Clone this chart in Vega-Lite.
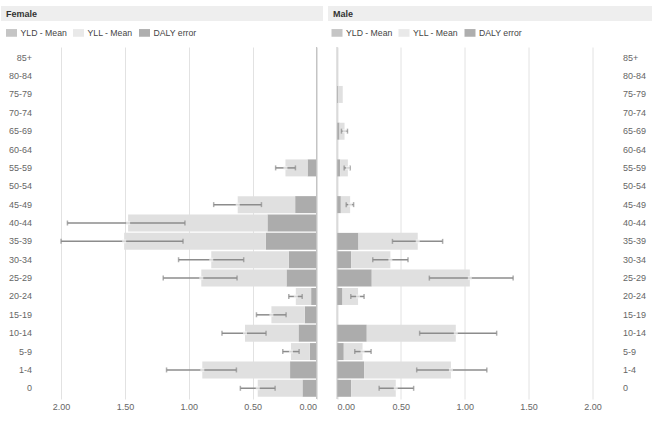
{
  "$schema": "https://vega.github.io/schema/vega-lite/v6.json",
  "padding": {"left": 1, "top": 6, "right": 0, "bottom": 0},
  "background": "white",
  "config": {
    "font": "Liberation Sans",
    "view": {"stroke": null},
    "axis": {"labelFont": "Liberation Sans", "labelFontSize": 9, "labelColor": "#666666", "ticks": false, "domain": false, "title": null},
    "legend": {"labelFont": "Liberation Sans", "labelFontSize": 8.7, "labelColor": "#444444"}
  },
  "datasets": {
    "bars": [
      {"sex": "Female", "age": "55-59", "measure": "YLD - Mean", "value": 0.07},
      {"sex": "Female", "age": "55-59", "measure": "YLL - Mean", "value": 0.173},
      {"sex": "Female", "age": "45-49", "measure": "YLD - Mean", "value": 0.167},
      {"sex": "Female", "age": "45-49", "measure": "YLL - Mean", "value": 0.45},
      {"sex": "Female", "age": "40-44", "measure": "YLD - Mean", "value": 0.384},
      {"sex": "Female", "age": "40-44", "measure": "YLL - Mean", "value": 1.091},
      {"sex": "Female", "age": "35-39", "measure": "YLD - Mean", "value": 0.397},
      {"sex": "Female", "age": "35-39", "measure": "YLL - Mean", "value": 1.109},
      {"sex": "Female", "age": "30-34", "measure": "YLD - Mean", "value": 0.217},
      {"sex": "Female", "age": "30-34", "measure": "YLL - Mean", "value": 0.607},
      {"sex": "Female", "age": "25-29", "measure": "YLD - Mean", "value": 0.235},
      {"sex": "Female", "age": "25-29", "measure": "YLL - Mean", "value": 0.667},
      {"sex": "Female", "age": "20-24", "measure": "YLD - Mean", "value": 0.042},
      {"sex": "Female", "age": "20-24", "measure": "YLL - Mean", "value": 0.12},
      {"sex": "Female", "age": "15-19", "measure": "YLD - Mean", "value": 0.092},
      {"sex": "Female", "age": "15-19", "measure": "YLL - Mean", "value": 0.261},
      {"sex": "Female", "age": "10-14", "measure": "YLD - Mean", "value": 0.141},
      {"sex": "Female", "age": "10-14", "measure": "YLL - Mean", "value": 0.419},
      {"sex": "Female", "age": "5-9", "measure": "YLD - Mean", "value": 0.052},
      {"sex": "Female", "age": "5-9", "measure": "YLL - Mean", "value": 0.148},
      {"sex": "Female", "age": "1-4", "measure": "YLD - Mean", "value": 0.207},
      {"sex": "Female", "age": "1-4", "measure": "YLL - Mean", "value": 0.687},
      {"sex": "Female", "age": "0", "measure": "YLD - Mean", "value": 0.11},
      {"sex": "Female", "age": "0", "measure": "YLL - Mean", "value": 0.35},
      {"sex": "Male", "age": "75-79", "measure": "YLD - Mean", "value": 0.008},
      {"sex": "Male", "age": "75-79", "measure": "YLL - Mean", "value": 0.037},
      {"sex": "Male", "age": "65-69", "measure": "YLD - Mean", "value": 0.02},
      {"sex": "Male", "age": "65-69", "measure": "YLL - Mean", "value": 0.039},
      {"sex": "Male", "age": "55-59", "measure": "YLD - Mean", "value": 0.025},
      {"sex": "Male", "age": "55-59", "measure": "YLL - Mean", "value": 0.06},
      {"sex": "Male", "age": "45-49", "measure": "YLD - Mean", "value": 0.03},
      {"sex": "Male", "age": "45-49", "measure": "YLL - Mean", "value": 0.073},
      {"sex": "Male", "age": "35-39", "measure": "YLD - Mean", "value": 0.168},
      {"sex": "Male", "age": "35-39", "measure": "YLL - Mean", "value": 0.464},
      {"sex": "Male", "age": "30-34", "measure": "YLD - Mean", "value": 0.111},
      {"sex": "Male", "age": "30-34", "measure": "YLL - Mean", "value": 0.307},
      {"sex": "Male", "age": "25-29", "measure": "YLD - Mean", "value": 0.272},
      {"sex": "Male", "age": "25-29", "measure": "YLL - Mean", "value": 0.768},
      {"sex": "Male", "age": "20-24", "measure": "YLD - Mean", "value": 0.043},
      {"sex": "Male", "age": "20-24", "measure": "YLL - Mean", "value": 0.122},
      {"sex": "Male", "age": "10-14", "measure": "YLD - Mean", "value": 0.233},
      {"sex": "Male", "age": "10-14", "measure": "YLL - Mean", "value": 0.697},
      {"sex": "Male", "age": "5-9", "measure": "YLD - Mean", "value": 0.053},
      {"sex": "Male", "age": "5-9", "measure": "YLL - Mean", "value": 0.147},
      {"sex": "Male", "age": "1-4", "measure": "YLD - Mean", "value": 0.212},
      {"sex": "Male", "age": "1-4", "measure": "YLL - Mean", "value": 0.68},
      {"sex": "Male", "age": "0", "measure": "YLD - Mean", "value": 0.111},
      {"sex": "Male", "age": "0", "measure": "YLL - Mean", "value": 0.349}
    ],
    "errors": [
      {"sex": "Female", "age": "55-59", "daly": 0.243, "lo": 0.165, "hi": 0.32},
      {"sex": "Female", "age": "45-49", "daly": 0.617, "lo": 0.431, "hi": 0.805},
      {"sex": "Female", "age": "40-44", "daly": 1.475, "lo": 1.03, "hi": 1.95},
      {"sex": "Female", "age": "35-39", "daly": 1.506, "lo": 1.045, "hi": 2.0},
      {"sex": "Female", "age": "30-34", "daly": 0.824, "lo": 0.57, "hi": 1.08},
      {"sex": "Female", "age": "25-29", "daly": 0.902, "lo": 0.622, "hi": 1.2},
      {"sex": "Female", "age": "20-24", "daly": 0.162, "lo": 0.112, "hi": 0.217},
      {"sex": "Female", "age": "15-19", "daly": 0.353, "lo": 0.238, "hi": 0.47},
      {"sex": "Female", "age": "10-14", "daly": 0.56, "lo": 0.395, "hi": 0.74},
      {"sex": "Female", "age": "5-9", "daly": 0.2, "lo": 0.136, "hi": 0.264},
      {"sex": "Female", "age": "1-4", "daly": 0.894, "lo": 0.627, "hi": 1.174},
      {"sex": "Female", "age": "0", "daly": 0.46, "lo": 0.324, "hi": 0.596},
      {"sex": "Male", "age": "65-69", "daly": 0.059, "lo": 0.035, "hi": 0.082},
      {"sex": "Male", "age": "55-59", "daly": 0.085, "lo": 0.056, "hi": 0.103},
      {"sex": "Male", "age": "45-49", "daly": 0.103, "lo": 0.072, "hi": 0.13},
      {"sex": "Male", "age": "35-39", "daly": 0.632, "lo": 0.434, "hi": 0.827},
      {"sex": "Male", "age": "30-34", "daly": 0.418, "lo": 0.28, "hi": 0.556},
      {"sex": "Male", "age": "25-29", "daly": 1.04, "lo": 0.723, "hi": 1.379},
      {"sex": "Male", "age": "20-24", "daly": 0.165, "lo": 0.108, "hi": 0.212},
      {"sex": "Male", "age": "10-14", "daly": 0.93, "lo": 0.647, "hi": 1.25},
      {"sex": "Male", "age": "5-9", "daly": 0.2, "lo": 0.139, "hi": 0.267},
      {"sex": "Male", "age": "1-4", "daly": 0.892, "lo": 0.624, "hi": 1.173},
      {"sex": "Male", "age": "0", "daly": 0.46, "lo": 0.33, "hi": 0.6}
    ]
  },
  "vconcat": [
    {
      "hconcat": [
        {
          "width": 322, "height": 15,
          "view": {"fill": "#eeeeee", "stroke": null},
          "data": {"values": [{"panel": "Female"}]},
          "mark": {"type": "text", "align": "left", "baseline": "middle", "fontWeight": "bold", "fontSize": 9, "dx": 5, "color": "#333333"},
          "encoding": {
            "text": {"field": "panel"},
            "x": {"datum": 0, "type": "quantitative", "scale": {"domain": [0, 1]}, "axis": null}
          }
        },
        {
          "width": 324, "height": 15,
          "view": {"fill": "#eeeeee", "stroke": null},
          "data": {"values": [{"panel": "Male"}]},
          "mark": {"type": "text", "align": "left", "baseline": "middle", "fontWeight": "bold", "fontSize": 9, "dx": 5, "color": "#333333"},
          "encoding": {
            "text": {"field": "panel"},
            "x": {"datum": 0, "type": "quantitative", "scale": {"domain": [0, 1]}, "axis": null}
          }
        }
      ],
      "spacing": 5,
      "resolve": {"scale": {"x": "independent"}}
    },
    {
      "hconcat": [
        {
          "width": 315.5, "height": 352,
          "layer": [
            {
              "data": {"name": "bars"},
              "transform": [{"filter": "datum.sex === 'Female'"}],
              "mark": {"type": "bar"},
              "encoding": {
                "y": {"field": "age", "type": "nominal", "scale": {"domain": ["85+", "80-84", "75-79", "70-74", "65-69", "60-64", "55-59", "50-54", "45-49", "40-44", "35-39", "30-34", "25-29", "20-24", "15-19", "10-14", "5-9", "1-4", "0"], "paddingInner": 0.075, "paddingOuter": 0.12}, "axis": {"orient": "left", "labelPadding": 4, "offset": -34.5, "grid": false}},
                "x": {"field": "value", "type": "quantitative", "stack": "zero", "scale": {"domain": [0, 2.2], "range": [315.5, 34.5], "nice": false, "zero": false}, "axis": {"values": [0, 0.5, 1, 1.5, 2], "format": ".2f", "grid": true, "gridColor": "#e2e2e2", "labelPadding": 3}},
                "color": {"field": "measure", "type": "nominal", "scale": {"domain": ["YLD - Mean", "YLL - Mean", "DALY error"], "range": ["#acacac", "#e0e0e0", "#8c8c8c"]}, "legend": {"orient": "none", "legendX": 0, "legendY": -25, "direction": "horizontal", "padding": 5, "symbolType": "M-1,-0.7H1V0.7H-1Z", "symbolSize": 121, "symbolStrokeWidth": 0, "symbolOpacity": 1, "labelOffset": 3.5, "columnPadding": 6, "title": null}}
              }
            },
            {
              "data": {"values": [{"baseline": 0}]},
              "mark": {"type": "rule", "color": "#c4c4c4", "strokeWidth": 1},
              "encoding": {"x": {"field": "baseline", "type": "quantitative"}}
            },
            {
              "data": {"name": "errors"},
              "transform": [{"filter": "datum.sex === 'Female'"}],
              "mark": {"type": "rule", "strokeWidth": 1.5},
              "encoding": {
                "y": {"field": "age", "type": "nominal"},
                "x": {"field": "lo", "type": "quantitative"},
                "x2": {"field": "hi"},
                "color": {"datum": "DALY error"}
              }
            },
            {
              "data": {"name": "errors"},
              "transform": [{"filter": "datum.sex === 'Female'"}, {"fold": ["lo", "hi"], "as": ["end", "edge"]}],
              "mark": {"type": "tick", "thickness": 1.5, "size": 5},
              "encoding": {
                "y": {"field": "age", "type": "nominal"},
                "x": {"field": "edge", "type": "quantitative"},
                "color": {"datum": "DALY error"}
              }
            },
            {
              "data": {"name": "errors"},
              "transform": [{"filter": "datum.sex === 'Female'"}],
              "mark": {"type": "tick", "thickness": 4, "size": 4, "color": "#f4f4f4"},
              "encoding": {
                "y": {"field": "age", "type": "nominal"},
                "x": {"field": "daly", "type": "quantitative"}
              }
            }
          ]
        },
        {
          "width": 291.5, "height": 352,
          "layer": [
            {
              "data": {"name": "bars"},
              "transform": [{"filter": "datum.sex === 'Male'"}],
              "mark": {"type": "bar"},
              "encoding": {
                "y": {"field": "age", "type": "nominal", "scale": {"domain": ["85+", "80-84", "75-79", "70-74", "65-69", "60-64", "55-59", "50-54", "45-49", "40-44", "35-39", "30-34", "25-29", "20-24", "15-19", "10-14", "5-9", "1-4", "0"], "paddingInner": 0.075, "paddingOuter": 0.12}, "axis": {"orient": "right", "labelPadding": 4.5, "grid": false}},
                "x": {"field": "value", "type": "quantitative", "stack": "zero", "scale": {"domain": [0, 2.2], "range": [10.5, 291.5], "nice": false, "zero": false}, "axis": {"values": [0, 0.5, 1, 1.5, 2], "format": ".2f", "grid": true, "gridColor": "#e2e2e2", "labelPadding": 3}},
                "color": {"field": "measure", "type": "nominal", "scale": {"domain": ["YLD - Mean", "YLL - Mean", "DALY error"], "range": ["#acacac", "#e0e0e0", "#8c8c8c"]}, "legend": {"orient": "none", "legendX": 0, "legendY": -25, "direction": "horizontal", "padding": 5, "symbolType": "M-1,-0.7H1V0.7H-1Z", "symbolSize": 121, "symbolStrokeWidth": 0, "symbolOpacity": 1, "labelOffset": 3.5, "columnPadding": 6, "title": null}}
              }
            },
            {
              "data": {"values": [{"baseline": 0}]},
              "mark": {"type": "rule", "color": "#c4c4c4", "strokeWidth": 1},
              "encoding": {"x": {"field": "baseline", "type": "quantitative"}}
            },
            {
              "data": {"name": "errors"},
              "transform": [{"filter": "datum.sex === 'Male'"}],
              "mark": {"type": "rule", "strokeWidth": 1.5},
              "encoding": {
                "y": {"field": "age", "type": "nominal"},
                "x": {"field": "lo", "type": "quantitative"},
                "x2": {"field": "hi"},
                "color": {"datum": "DALY error"}
              }
            },
            {
              "data": {"name": "errors"},
              "transform": [{"filter": "datum.sex === 'Male'"}, {"fold": ["lo", "hi"], "as": ["end", "edge"]}],
              "mark": {"type": "tick", "thickness": 1.5, "size": 5},
              "encoding": {
                "y": {"field": "age", "type": "nominal"},
                "x": {"field": "edge", "type": "quantitative"},
                "color": {"datum": "DALY error"}
              }
            },
            {
              "data": {"name": "errors"},
              "transform": [{"filter": "datum.sex === 'Male'"}],
              "mark": {"type": "tick", "thickness": 4, "size": 4, "color": "#f4f4f4"},
              "encoding": {
                "y": {"field": "age", "type": "nominal"},
                "x": {"field": "daly", "type": "quantitative"}
              }
            }
          ]
        }
      ],
      "spacing": 9.5,
      "resolve": {"scale": {"color": "independent", "x": "independent", "y": "independent"}}
    }
  ],
  "spacing": 1
}
